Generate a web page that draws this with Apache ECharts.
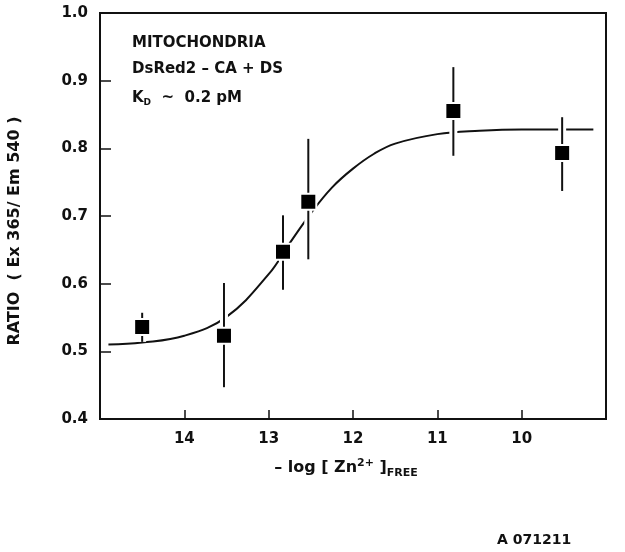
<!DOCTYPE html>
<html>
<head>
<meta charset="utf-8">
<script src="https://cdn.jsdelivr.net/npm/echarts@6/dist/echarts.min.js"></script>
<style>html,body{margin:0;padding:0;background:#fff;}#c{width:625px;height:552px;}</style>
</head>
<body>
<div id="c"></div>
<script>
const xPoints = [14.5, 13.53, 12.83, 12.53, 10.81, 9.52];
const yPoints = [0.536, 0.523, 0.647, 0.721, 0.855, 0.793];
const yErrLow = [0.514, 0.447, 0.591, 0.636, 0.789, 0.737];
const yErrHigh = [0.557, 0.601, 0.701, 0.814, 0.920, 0.846];
const curveX = [14.9, 14.5, 14.0, 13.5, 13.0, 12.75, 12.5, 12.25, 12.0, 11.75, 11.5, 11.0, 10.5, 10.0, 9.5, 9.15];
const curveY = [0.510, 0.513, 0.523, 0.551, 0.614, 0.660, 0.704, 0.742, 0.770, 0.792, 0.807, 0.821, 0.826, 0.828, 0.828, 0.828];
const xTicks = [14, 13, 12, 11, 10];
const yTicks = ['0.4', '0.5', '0.6', '0.7', '0.8', '0.9', '1.0'];

const FONT = 'DejaVu Sans';
const C = '#111';
const chart = echarts.init(document.getElementById('c'), null, {renderer: 'canvas'});
const errData = xPoints.map((x, i) => [x, yErrLow[i], yErrHigh[i]]);
chart.setOption({
  animation: false,
  backgroundColor: '#fff',
  grid: {left: 100, right: 19, top: 13, bottom: 133, show: true, borderColor: C, borderWidth: 2, backgroundColor: 'transparent'},
  xAxis: {
    type: 'value', min: 9, max: 15, interval: 1, inverse: true,
    axisLine: {show: true, lineStyle: {color: C, width: 2}},
    axisTick: {inside: true, length: 9, lineStyle: {color: C, width: 1.5}},
    splitLine: {show: false},
    axisLabel: {margin: 13, color: C, fontSize: 15, fontFamily: FONT, fontWeight: 'bold',
      formatter: v => xTicks.indexOf(v) >= 0 ? String(v) : ''}
  },
  yAxis: {
    type: 'value', min: 0.4, max: 1.0, interval: 0.1,
    axisLine: {show: true, lineStyle: {color: C, width: 2}},
    axisTick: {inside: true, length: 11, lineStyle: {color: C, width: 1.5}},
    splitLine: {show: false},
    axisLabel: {margin: 12, color: C, fontSize: 15, fontFamily: FONT, fontWeight: 'bold',
      formatter: v => yTicks[Math.round((v - 0.4) * 10)]}
  },
  graphic: [
    {type: 'text', x: 15, y: 231, rotation: Math.PI / 2, style: {text: 'RATIO  ( Ex 365/ Em 540 )', fill: C, font: 'bold 16px "' + FONT + '"', align: 'center', verticalAlign: 'middle'}},
    {type: 'text', x: 132, y: 36, style: {text: 'MITOCHONDRIA', fill: C, font: 'bold 15px "' + FONT + '"'}},
    {type: 'text', x: 132, y: 62, style: {text: 'DsRed2 – CA + DS', fill: C, font: 'bold 15px "' + FONT + '"'}},
    {type: 'text', x: 132, y: 90, style: {rich: {
      a: {fontSize: 15, fontFamily: FONT, fontWeight: 'bold', fill: C},
      d: {fontSize: 9, fontFamily: FONT, fontWeight: 'bold', fill: C, padding: [8, 0, 0, 0]}
    }, text: '{a|K}{d|D}{a|  ~  0.2 pM}'}},
    {type: 'text', x: 346, y: 468, style: {align: 'center', verticalAlign: 'middle', rich: {
      a: {fontSize: 16, fontFamily: FONT, fontWeight: 'bold', fill: C},
      s: {fontSize: 11, fontFamily: FONT, fontWeight: 'bold', fill: C, padding: [0, 0, 10, 0]},
      b: {fontSize: 11, fontFamily: FONT, fontWeight: 'bold', fill: C, padding: [11, 0, 0, 0]}
    }, text: '{a|– log [ Zn}{s|2+}{a| ]}{b|FREE}'}},
    {type: 'text', x: 497, y: 540, style: {text: 'A 071211', fill: C, font: 'bold 14px "' + FONT + '"', verticalAlign: 'middle'}}
  ],
  series: [
    {type: 'line', data: curveX.map((x, i) => [x, curveY[i]]), smooth: 0.4, showSymbol: false,
      lineStyle: {color: C, width: 2}, z: 2},
    {type: 'custom', data: errData, z: 3,
      renderItem: function (params, api) {
        const p1 = api.coord([api.value(0), api.value(1)]);
        const p2 = api.coord([api.value(0), api.value(2)]);
        return {type: 'group', children: [
          {type: 'line', shape: {x1: p1[0], y1: p1[1], x2: p2[0], y2: p2[1]}, style: {stroke: '#fff', lineWidth: 8}},
          {type: 'line', shape: {x1: p1[0], y1: p1[1], x2: p2[0], y2: p2[1]}, style: {stroke: C, lineWidth: 2}}
        ]};
      }},
    {type: 'scatter', data: xPoints.map((x, i) => [x, yPoints[i]]), symbol: 'rect', symbolSize: 16,
      itemStyle: {color: '#000', opacity: 1, borderColor: '#fff', borderWidth: 2}, z: 4}
  ]
});
</script>
</body>
</html>
